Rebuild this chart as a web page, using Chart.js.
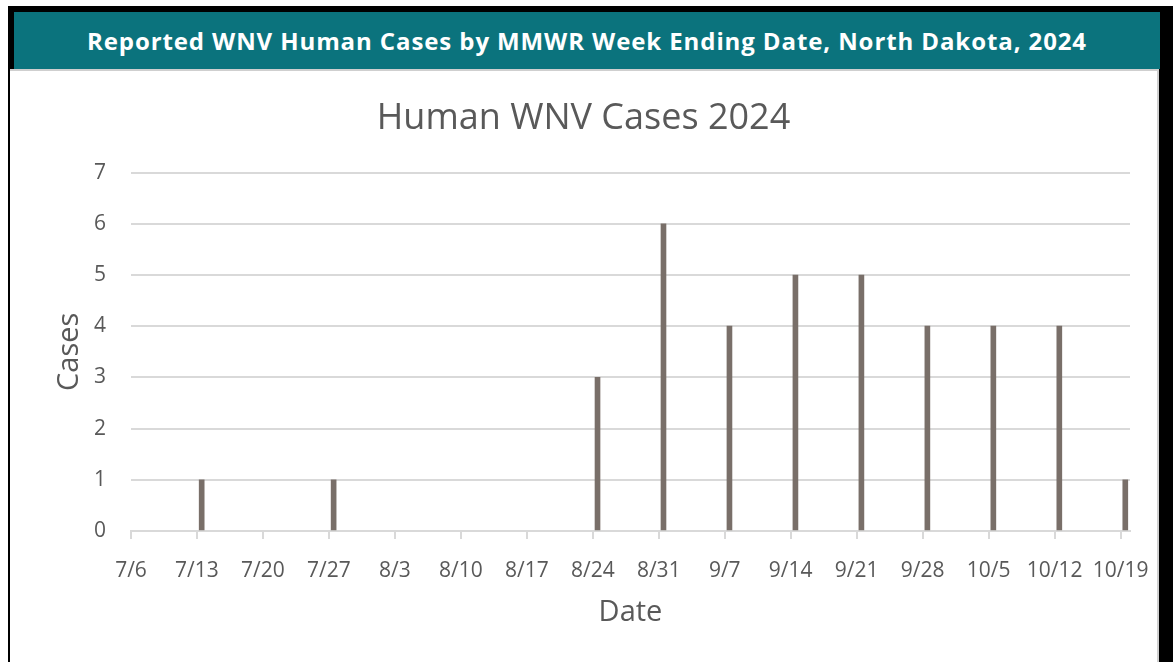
<!DOCTYPE html>
<html>
<head>
<meta charset="utf-8">
<script src="https://cdn.jsdelivr.net/npm/chart.js@4"></script>
<style>
  html, body { margin: 0; padding: 0; background: #fff; width: 1173px; height: 662px; overflow: hidden; }
  #frame { position: absolute; left: 8px; top: 6px; width: 1165px; height: 656px; background: #000; }
  #header { position: absolute; left: 6px; top: 6px; width: 1146px; height: 57px; background: #0b737d;
    color: #fff; font-family: "Open Sans", sans-serif; font-weight: bold; font-size: 24px; letter-spacing: 0.9px;
    display: flex; align-items: center; justify-content: center; }
  #panel { position: absolute; left: 2px; top: 63px; width: 1149px; height: 593px; background: #fff;
    border-top: 2px solid #cfcfcf; border-right: 2px solid #cfcfcf; box-sizing: border-box; }
  #wrap { position: absolute; left: 0; top: 0; width: 1147px; height: 591px; }
</style>
</head>
<body>
<div id="frame">
  <div id="header">Reported WNV Human Cases by MMWR Week Ending Date, North Dakota, 2024</div>
  <div id="panel"><div id="wrap"><canvas id="Canvas1"></canvas></div></div>
</div>
<script>
// week ending dates (x tick labels) and reported cases per week
var weekLabels = ['7/6', '7/13', '7/20', '7/27', '8/3', '8/10', '8/17', '8/24', '8/31',
                  '9/7', '9/14', '9/21', '9/28', '10/5', '10/12', '10/19'];
var cases = [0, 1, 0, 1, 0, 0, 0, 3, 6, 4, 5, 5, 4, 4, 4, 1];
var yTicks = [0, 1, 2, 3, 4, 5, 6, 7];

var textColor = '#595959';
var gridColor = '#d9d9d9';
var barColor = '#796f69';
Chart.defaults.font.family = '"Open Sans", sans-serif';

// date axis: one unit per day, bar sits in the middle of its day
var data = weekLabels.map(function (d, i) {
    return { x: i * 7 + 0.5, y: cases[i] };
});

var GKChart = document.getElementById('Canvas1').getContext('2d');
var myChart = new Chart(GKChart, {
    type: 'bar',
    data: {
        datasets: [{
            label: 'Cases',
            data: data,
            // zero weeks get no visible mark
            backgroundColor: function (ctx) {
                return cases[ctx.dataIndex] ? barColor : 'rgba(0,0,0,0)';
            },
            barThickness: 5
        }]
    },
    options: {
        responsive: true,
        maintainAspectRatio: false,
        animation: false,
        layout: { padding: 0 },
        plugins: {
            legend: { display: false },
            tooltip: { enabled: false },
            title: {
                display: true,
                text: 'Human WNV Cases 2024',
                color: textColor,
                font: { size: 36, weight: 'normal' },
                padding: { top: 26, bottom: 32.4 }
            }
        },
        scales: {
            x: {
                type: 'linear',
                offset: false,
                min: 0,
                max: weekLabels.length * 7 - 6,
                border: { display: true, color: gridColor, width: 2 },
                grid: { display: true, offset: false, drawOnChartArea: false, drawTicks: true, tickLength: 8, color: gridColor, lineWidth: 2 },
                ticks: {
                    stepSize: 7,
                    includeBounds: false,
                    autoSkip: false,
                    maxRotation: 0,
                    color: textColor,
                    font: { size: 21 },
                    padding: 19,
                    callback: function (v) { return weekLabels[v / 7]; }
                },
                title: {
                    display: true,
                    text: 'Date',
                    color: textColor,
                    font: { size: 29 },
                    padding: { top: 13, bottom: 31.6 }
                },
                afterFit: function (scale) {
                    scale.height = 131;
                    scale.paddingLeft = 0;
                    scale.paddingRight = 27;
                }
            },
            y: {
                min: 0,
                max: yTicks[yTicks.length - 1],
                border: { display: false },
                grid: { color: gridColor, lineWidth: 2, drawTicks: false },
                ticks: {
                    stepSize: 1,
                    color: textColor,
                    font: { size: 21 },
                    padding: 25
                },
                title: {
                    display: true,
                    text: 'Cases',
                    color: textColor,
                    font: { size: 29 },
                    padding: { top: 42.6, bottom: 0 }
                },
                afterFit: function (scale) { scale.width = 121; }
            }
        }
    }
});
</script>
</body>
</html>
